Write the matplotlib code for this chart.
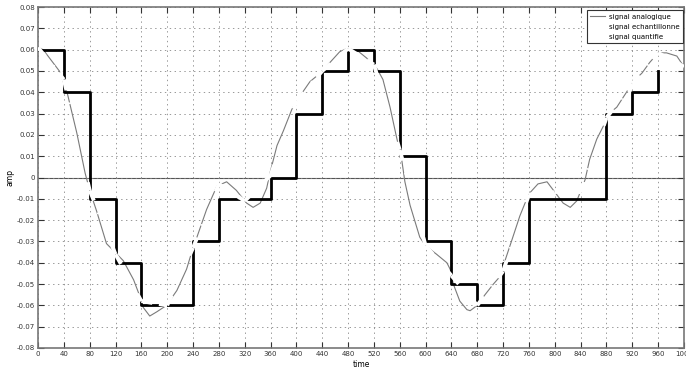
import numpy as np
import matplotlib.pyplot as plt

plt.rcParams["lines.scale_dashes"] = False

# signal analogique (points releves le long de la courbe)
t_ana = [0, 8, 23, 33, 45, 60, 73, 80, 91, 106, 119, 132, 148, 158, 163, 173, 184, 199,
         215, 230, 238, 246, 261, 277, 292, 307, 323, 333, 344, 354, 359, 370, 380, 393,
         405, 421, 437, 452, 467, 478, 494, 509, 525, 534, 545, 555, 563, 568, 576, 591,
         600, 617, 633, 638, 643, 653, 664, 669, 680, 692, 705, 718, 723, 734, 746, 754,
         762, 774, 788, 798, 813, 824, 834, 842, 847, 854, 865, 875, 882, 896, 911, 921,
         935, 947, 960, 973, 989, 1000]
v_ana = [0.061, 0.060, 0.054, 0.050, 0.040, 0.021, 0.002, -0.006, -0.016, -0.031, -0.035,
         -0.039, -0.048, -0.056, -0.061, -0.065, -0.063, -0.060, -0.053, -0.043, -0.035,
         -0.028, -0.015, -0.004, -0.002, -0.006, -0.012, -0.014, -0.012, -0.005, 0.002,
         0.015, 0.022, 0.032, 0.038, 0.045, 0.049, 0.054, 0.059, 0.0605, 0.0597, 0.056,
         0.051, 0.046, 0.033, 0.019, 0.0085, -0.002, -0.013, -0.028, -0.032, -0.036,
         -0.040, -0.043, -0.050, -0.058, -0.062, -0.0625, -0.060, -0.055, -0.050, -0.0455,
         -0.039, -0.029, -0.018, -0.012, -0.007, -0.003, -0.002, -0.006, -0.012, -0.014,
         -0.011, -0.005, -0.001, 0.0085, 0.018, 0.024, 0.0295, 0.033, 0.040, 0.045, 0.049,
         0.054, 0.0585, 0.0585, 0.057, 0.052]

# signal echantillonne (periode 40)
t_ech = list(range(0, 1001, 40))
v_ech = [0.061, 0.046, -0.006, -0.036, -0.058, -0.060, -0.033, -0.003, -0.011, 0.001,
         0.036, 0.050, 0.0605, 0.053, 0.013, -0.032, -0.046, -0.060, -0.044, -0.008,
         -0.007, -0.007, 0.028, 0.044, 0.0585, 0.052]

# signal quantifie
t_q = list(range(0, 961, 40))
v_q = [0.06, 0.04, -0.01, -0.04, -0.06, -0.06, -0.03, -0.01, -0.01, 0.0,
       0.03, 0.05, 0.06, 0.05, 0.01, -0.03, -0.05, -0.06, -0.04, -0.01,
       -0.01, -0.01, 0.03, 0.04, 0.05]

xticks = list(range(0, 1001, 40))
yticks = [round(-0.08 + 0.01 * i, 2) for i in range(17)]

fig = plt.figure(figsize=(6.86, 3.71), dpi=100)
ax = fig.add_axes([0.0554, 0.062, 0.9416, 0.919])

ax.axhline(0, color="#555555", lw=0.8, zorder=1)
ax.plot(t_ana, v_ana, color="#7a7a7a", lw=0.8, zorder=2)
ax.step(t_q, v_q, where="post", color="black", lw=2.0, zorder=3)

# echantillons en blanc, trait mixte repris a chaque echantillon
for k in range(len(t_ech) - 1):
    seg_t = t_ech[k:k + 2]
    seg_v = v_ech[k:k + 2]
    ax.plot(seg_t, seg_v, color="white", lw=2.8, ls=(0, (8, 9, 1.2, 300)), zorder=4)
    ax.plot(seg_t[::-1], seg_v[::-1], color="white", lw=2.8, ls=(0, (6, 300)), zorder=4)

# entrees de legende (les deux dernieres sont blanches)
h1, = ax.plot([], [], color="#7a7a7a", lw=0.8)
h2, = ax.plot([], [], color="white", lw=0.8)
h3, = ax.plot([], [], color="white", lw=0.8)
leg = ax.legend([h1, h2, h3], ["signal analogique", "signal echantillonne", "signal quantifie"],
                loc="upper right", fontsize=5, frameon=True, fancybox=False,
                edgecolor="#333333", framealpha=1, handlelength=2.2, handletextpad=0.5,
                borderpad=0.5, labelspacing=0.6, borderaxespad=0,
                bbox_to_anchor=(0.9985, 0.991))
leg.get_frame().set_linewidth(0.8)

ax.set_xlim(0, 1000)
ax.set_ylim(-0.08, 0.08)
ax.set_xticks(xticks)
ax.set_yticks(yticks)
ax.set_yticklabels(["0" if abs(y) < 1e-9 else f"{y:.2f}" for y in yticks])
ax.grid(True, color="#888888", ls=(0, (1, 2.5)), lw=0.6)
ax.tick_params(direction="in", length=4, width=0.8, labelsize=5, colors="#333333",
               top=True, right=True, pad=2)
for s in ax.spines.values():
    s.set_color("#777777")
    s.set_linewidth(1.2)

ax.set_xlabel("time", fontsize=5.5, labelpad=2)
ax.set_ylabel("amp", fontsize=5.5, labelpad=2)

fig.savefig("out.png", dpi=100)
